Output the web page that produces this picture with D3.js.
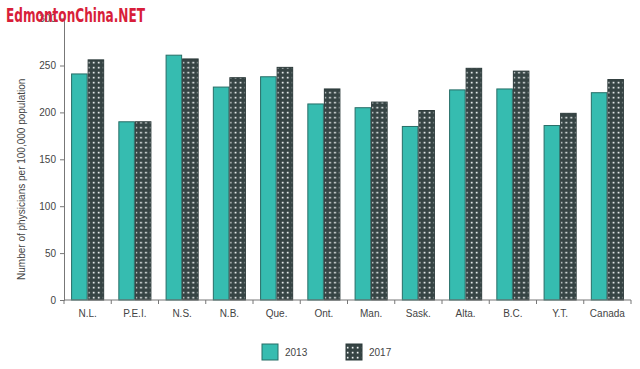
<!DOCTYPE html>
<html><head><meta charset="utf-8">
<script src="https://cdn.jsdelivr.net/npm/d3@7"></script>
<style>body{margin:0;background:#fff}svg{display:block}</style>
</head><body>
<script>
const categories = ["N.L.","P.E.I.","N.S.","N.B.","Que.","Ont.","Man.","Sask.","Alta.","B.C.","Y.T.","Canada"];
const series2013 = [241,190,261,227,238,209,205,185,224,225,186,221];
const series2017 = [256,190,257,237,248,225,211,202,247,244,199,235];
const seriesNames = ["2013","2017"];
const yTicks = [0,50,100,150,200,250,300];

(function(){
const W=640,H=369;
const svg=d3.select("body").append("svg").attr("width",W).attr("height",H);
const defs=svg.append("defs");
const pat=defs.append("pattern").attr("id","dots").attr("patternUnits","userSpaceOnUse")
  .attr("width",5).attr("height",5);
pat.append("rect").attr("width",5).attr("height",5).attr("fill","#364444");
pat.append("rect").attr("x",1.8).attr("y",1.8).attr("width",1.7).attr("height",1.7).attr("fill","#f0f4f4");

const mLeft=64,mRight=631,mTop=18.6,mBottom=300;
const x=d3.scaleBand().domain(categories).range([mLeft,mRight]).paddingInner(0.3).paddingOuter(0.15);
const xOuter=d3.scaleBand().domain(categories).range([mLeft,mRight]);
const x1=d3.scaleBand().domain(seriesNames).range([0,x.bandwidth()]);
const y=d3.scaleLinear().domain([0,300]).range([mBottom,mTop]);

const fills={"2013":"#36bcb0","2017":"url(#dots)"};
const strokes={"2013":"#276e67","2017":"#2c3a3a"};
const data=categories.map((c,i)=>({c,vals:[{k:"2013",v:series2013[i]},{k:"2017",v:series2017[i]}]}));

const g=svg.append("g");
g.selectAll("g.grp").data(data).join("g").attr("class","grp")
 .attr("transform",d=>`translate(${x(d.c)},0)`)
 .selectAll("rect").data(d=>d.vals).join("rect")
 .attr("x",d=>x1(d.k)+0.5).attr("width",x1.bandwidth()-1)
 .attr("y",d=>y(d.v)).attr("height",d=>y(0)-y(d.v))
 .attr("fill",d=>fills[d.k]).attr("stroke",d=>strokes[d.k]).attr("stroke-width",1);

const yAxis=svg.append("g").attr("transform",`translate(${mLeft},0)`)
 .call(d3.axisLeft(y).tickValues(yTicks).tickSize(4).tickPadding(4));
yAxis.select(".domain").attr("stroke","#777");
yAxis.selectAll(".tick line").attr("stroke","#777");
yAxis.selectAll("text").attr("fill","#444").style("font-family","Liberation Sans, Arial, sans-serif").style("font-size","10px");

const xAxis=svg.append("g").attr("transform",`translate(0,${mBottom})`);
xAxis.append("line").attr("x1",mLeft).attr("x2",mRight).attr("stroke","#777");
xAxis.selectAll("line.t").data(categories.concat(["_end"])).join("line").attr("class","t")
 .attr("x1",(d,i)=>i<categories.length?xOuter(d):mRight).attr("x2",(d,i)=>i<categories.length?xOuter(d):mRight)
 .attr("y1",0).attr("y2",4).attr("stroke","#777");
xAxis.selectAll("text").data(categories).join("text")
 .attr("x",d=>xOuter(d)+xOuter.bandwidth()/2).attr("y",17)
 .attr("text-anchor","middle").attr("fill","#444")
 .style("font-family","Liberation Sans, Arial, sans-serif").style("font-size","10px").text(d=>d);

svg.append("text").attr("transform",`translate(25,${(mTop+mBottom)/2+20}) rotate(-90)`)
 .attr("text-anchor","middle").attr("fill","#444")
 .style("font-family","Liberation Sans, Arial, sans-serif").style("font-size","10px")
 .text("Number of physicians per 100,000 population");

const leg=svg.append("g");
const legX=[262,346];
seriesNames.forEach((s,i)=>{
  leg.append("rect").attr("x",legX[i]).attr("y",344).attr("width",16).attr("height",16)
   .attr("fill",fills[s]).attr("stroke",strokes[s]);
  leg.append("text").attr("x",legX[i]+23).attr("y",356).attr("fill","#444")
   .style("font-family","Liberation Sans, Arial, sans-serif").style("font-size","10px").text(s);
});

svg.append("text").attr("x",6).attr("y",22).attr("fill","#d81e3a")
 .attr("textLength",139).attr("lengthAdjust","spacingAndGlyphs")
 .style("font-family","Liberation Sans Narrow, DejaVu Sans Condensed, Arial Narrow, sans-serif")
 .style("font-weight","bold").style("font-size","19px").text("EdmontonChina.NET");
})();
</script>
</body></html>
